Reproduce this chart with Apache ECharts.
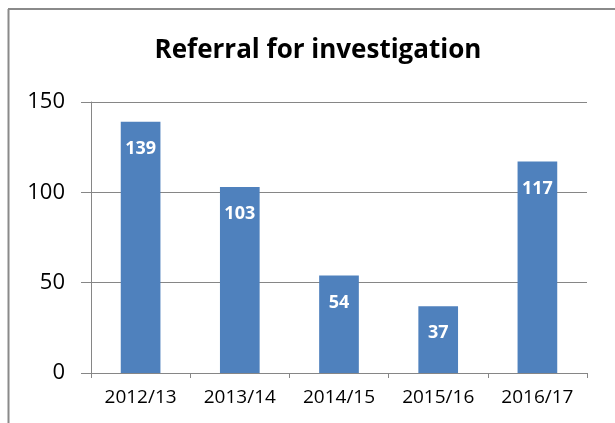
<!DOCTYPE html>
<html><head><meta charset="utf-8">
<script src="https://cdn.jsdelivr.net/npm/echarts@6/dist/echarts.min.js"></script>
<style>html,body{margin:0;padding:0;background:#fff}#c{width:615px;height:423px}</style>
</head><body><div id="c"></div>
<script>
const titleText = 'Referral for investigation';
const categories = ['2012/13', '2013/14', '2014/15', '2015/16', '2016/17'];
const values = [139, 103, 54, 37, 117];
const yMin = 0, yMax = 150, yStep = 50;

const chart = echarts.init(document.getElementById('c'), null, {renderer: 'canvas'});
const F = '"Open Sans", sans-serif';
chart.setOption({
  animation: false,
  backgroundColor: '#fff',
  graphic: [
    {type: 'line', shape: {x1: 8, y1: 9, x2: 615, y2: 9}, style: {stroke: '#8a8a8a', lineWidth: 2}},
    {type: 'line', shape: {x1: 8.5, y1: 9, x2: 8.5, y2: 423}, style: {stroke: '#8a8a8a', lineWidth: 2}}
  ],
  title: {
    text: titleText, left: 313, top: 33, textAlign: 'center',
    textStyle: {fontFamily: F, fontWeight: 'bold', fontSize: 26, color: '#000'}
  },
  grid: {left: 91, right: 28, top: 102, bottom: 50, containLabel: false},
  xAxis: {
    type: 'category', data: categories,
    axisLine: {lineStyle: {color: '#868686', width: 1}},
    axisTick: {show: true, length: 5, lineStyle: {color: '#868686'}},
    axisLabel: {fontFamily: F, fontSize: 19, color: '#000', margin: 15}
  },
  yAxis: {
    type: 'value', min: yMin, max: yMax, interval: yStep,
    axisLine: {show: true, lineStyle: {color: '#868686'}},
    axisTick: {show: true, length: 10, inside: false, lineStyle: {color: '#868686'}},
    splitLine: {lineStyle: {color: '#868686', width: 1}},
    axisLabel: {fontFamily: F, fontSize: 22, color: '#000', margin: 26}
  },
  series: [{
    type: 'bar', data: values, barWidth: '40%',
    itemStyle: {color: '#4F81BD'},
    label: {show: true, position: 'insideTop', distance: 18, color: '#fff',
      fontFamily: F, fontWeight: 'bold', fontSize: 18}
  }]
});
</script></body></html>
